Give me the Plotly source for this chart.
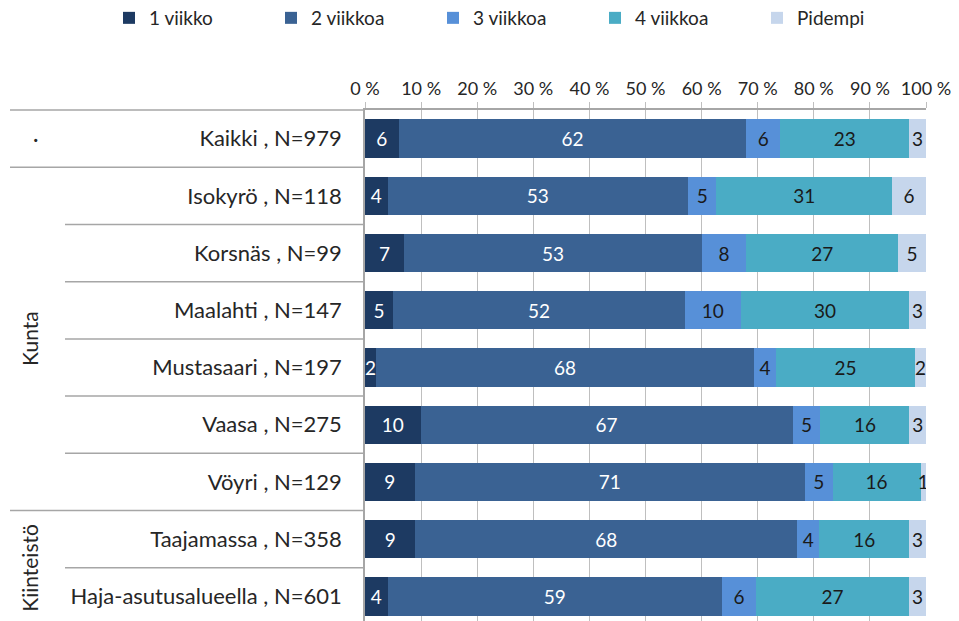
import plotly.graph_objects as go

rows = [
    "Kaikki , N=979",
    "Isokyrö , N=118",
    "Korsnäs , N=99",
    "Maalahti , N=147",
    "Mustasaari , N=197",
    "Vaasa , N=275",
    "Vöyri , N=129",
    "Taajamassa , N=358",
    "Haja-asutusalueella , N=601",
]
series_names = ["1 viikko", "2 viikkoa", "3 viikkoa", "4 viikkoa", "Pidempi"]
v_1vk = [6, 4, 7, 5, 2, 10, 9, 9, 4]
v_2vk = [62, 53, 53, 52, 68, 67, 71, 68, 59]
v_3vk = [6, 5, 8, 10, 4, 5, 5, 4, 6]
v_4vk = [23, 31, 27, 30, 25, 16, 16, 16, 27]
v_pid = [3, 6, 5, 3, 2, 3, 1, 3, 3]
x_ticks = [0, 10, 20, 30, 40, 50, 60, 70, 80, 90, 100]

colors = ["#1d3a62", "#3a6293", "#5790d8", "#4aacc5", "#c6d6ec"]
text_colors = ["white", "white", "#1a1a1a", "#1a1a1a", "#1a1a1a"]
FONT = "Lato"
TXT = "#262626"

# page body has an 8px margin, so the figure is drawn 8px smaller and offset
W, H = 951, 613
L, R, T = 357, 918, 102

fig = go.Figure()
for name, vals, col, tcol in zip(series_names, [v_1vk, v_2vk, v_3vk, v_4vk, v_pid], colors, text_colors):
    fig.add_trace(
        go.Bar(
            y=rows,
            x=vals,
            name=name,
            orientation="h",
            marker={"color": col, "line": {"width": 0}},
            text=[str(v) for v in vals],
            textposition="inside",
            insidetextanchor="middle",
            textangle=0,
            constraintext="none",
            textfont={"color": tcol, "size": 19, "family": FONT},
        )
    )

y_top, y_bot = -0.5, 8.43


def ypaper(v):
    return (y_bot - v) / (y_bot - y_top)


def xpaper(px):
    return (px - L) / (R - L)


shapes = []
full = [-0.5, 0.5, 6.5]
part = [1.5, 2.5, 3.5, 4.5, 5.5, 7.5]
for b in full + part:
    shapes.append(
        dict(type="line", xref="paper", yref="paper",
             x0=xpaper(2 if b in full else 57), x1=0,
             y0=ypaper(b), y1=ypaper(b),
             line={"color": "#a6a6a6", "width": 1.5})
    )

group_font = {"size": 21, "color": TXT, "family": FONT}
annotations = [
    dict(text="·", xref="paper", yref="paper", x=xpaper(27), y=ypaper(0),
         xanchor="center", yanchor="middle", showarrow=False, font=group_font),
    dict(text="Kunta", xref="paper", yref="paper", x=xpaper(22), y=ypaper(3.5),
         xanchor="center", yanchor="middle", textangle=-90, showarrow=False, font=group_font),
    dict(text="Kiinteistö", xref="paper", yref="paper", x=xpaper(22), y=ypaper(7.5),
         xanchor="center", yanchor="middle", textangle=-90, showarrow=False, font=group_font),
]

plot_h = H - T
fig.update_layout(
    width=W,
    height=H,
    barmode="stack",
    barnorm="percent",
    bargap=0.33,
    plot_bgcolor="white",
    paper_bgcolor="white",
    margin={"l": L, "r": W - R, "t": T, "b": 0, "autoexpand": False},
    uniformtext={"minsize": 19, "mode": "show"},
    font={"family": FONT, "size": 19, "color": TXT},
    showlegend=True,
    legend={
        "orientation": "h",
        "xref": "paper",
        "yref": "paper",
        "x": xpaper(101),
        "y": 1 + (T - 10) / plot_h,
        "yanchor": "middle",
        "xanchor": "left",
        "entrywidth": 117,
        "font": {"size": 19, "family": FONT, "color": TXT},
        "traceorder": "normal",
    },
    shapes=shapes,
    annotations=annotations,
)
fig.update_xaxes(
    side="top",
    range=[0, 100],
    tickvals=x_ticks,
    ticktext=[f"{v} %" for v in x_ticks],
    showgrid=True,
    gridcolor="#bfbfbf",
    gridwidth=1,
    ticks="outside",
    ticklen=6,
    tickcolor="#bfbfbf",
    showline=True,
    linecolor="#a6a6a6",
    linewidth=1.5,
    zeroline=False,
    automargin=False,
    tickfont={"size": 18, "family": FONT, "color": TXT},
)
fig.update_yaxes(
    range=[y_bot, y_top],
    showline=True,
    linecolor="#a6a6a6",
    linewidth=1.5,
    showgrid=False,
    ticks="",
    automargin=False,
    ticklabelstandoff=17,
    tickfont={"size": 22, "family": FONT, "color": TXT},
)

fig.write_html("out.html")
